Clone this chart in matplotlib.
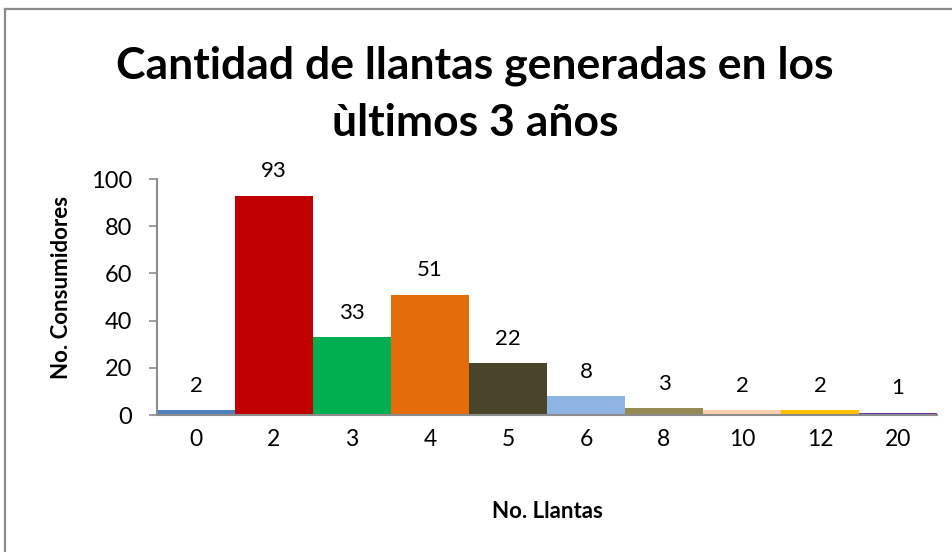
import matplotlib
matplotlib.use("Agg")
import matplotlib.pyplot as plt
from matplotlib.lines import Line2D

categories = ["0", "2", "3", "4", "5", "6", "8", "10", "12", "20"]
values = [2, 93, 33, 51, 22, 8, 3, 2, 2, 1]
colors = ["#4F81BD", "#C00000", "#00B050", "#E46C0A", "#4A452A",
          "#8EB4E3", "#948A54", "#FAD0B0", "#FFC000", "#7030A0"]

plt.rcParams['font.family'] = ['Lato', 'DejaVu Sans']

fig = plt.figure(figsize=(9.53, 5.52), dpi=100)
# outer chart border (only top and left visible)
fig.lines.append(Line2D([5/953, 5/953], [0, 1 - 9/552], transform=fig.transFigure,
                        color="#8c8c8c", linewidth=1.6))
fig.lines.append(Line2D([5/953, 1], [1 - 9/552, 1 - 9/552], transform=fig.transFigure,
                        color="#8c8c8c", linewidth=1.6))

ax = fig.add_axes([157/953, 1 - 415/552, (937 - 157)/953, (415 - 179)/552])

x = list(range(len(categories)))
ax.bar(x, values, width=1.0, color=colors)
for xi, v in zip(x, values):
    ax.text(xi, v + 6, str(v), ha="center", va="bottom", fontsize=16)

ax.set_xlim(-0.5, len(categories) - 0.5)
ax.set_ylim(0, 100)
ax.set_yticks([0, 20, 40, 60, 80, 100])
ax.set_xticks(x)
ax.set_xticklabels(categories)
ax.tick_params(axis="x", length=0, pad=10, labelsize=16.5)
ax.tick_params(axis="y", length=6, color="#8c8c8c", width=1.2, pad=12, labelsize=17)
for s in ["top", "right"]:
    ax.spines[s].set_visible(False)
for s in ["left", "bottom"]:
    ax.spines[s].set_color("#8c8c8c")
    ax.spines[s].set_linewidth(1.5)

ax.set_ylabel("No. Consumidores", fontsize=16, fontweight="bold")
ax.yaxis.set_label_coords(-(157 - 62) / 780, 0.54)
ax.set_xlabel("No. Llantas", fontsize=16, fontweight="bold")
ax.xaxis.set_label_coords(0.5, -(511 - 415) / 236)
ax.xaxis.label.set_va("center")
ax.yaxis.label.set_va("center")
fig.text(475/953, 1 - 94/552, "Cantidad de llantas generadas en los\nùltimos 3 años",
         ha="center", va="center", fontsize=32, fontweight="bold", linespacing=1.5)

fig.savefig("out.png", dpi=100)
